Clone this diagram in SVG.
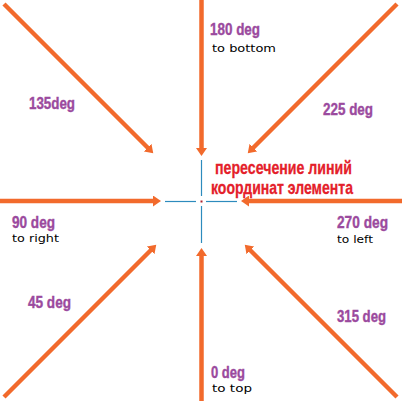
<svg xmlns="http://www.w3.org/2000/svg" width="402" height="401" viewBox="0 0 402 401">
<style>
.ar{stroke:#f26a2c;stroke-width:4.5;fill:none;marker-end:url(#ah)}
.cr{stroke:#2d8bbd;stroke-width:1.2;fill:none}
.deg{font-family:"Liberation Sans",Arial,sans-serif;font-weight:bold;font-size:17px;fill:#9b4a9e;stroke:#9b4a9e;stroke-width:0.4}
.sub{font-family:"DejaVu Sans",Verdana,sans-serif;font-size:11px;fill:#000}
.red{font-family:"Liberation Sans",Arial,sans-serif;font-weight:bold;font-size:19px;fill:#e4202a;stroke:#e4202a;stroke-width:0.3}
</style>
<defs>
<marker id="ah" markerUnits="userSpaceOnUse" markerWidth="10" markerHeight="11" refX="2" refY="5.5" orient="auto" viewBox="0 0 10 11">
<path d="M0,0 L8,5.5 L0,11 z" fill="#f26a2c"/>
</marker>
</defs>
<rect width="402" height="401" fill="#fff"/>
<g id="connectors">
<line class="ar" x1="201.5" y1="0" x2="201.5" y2="150"/>
<line class="ar" x1="201.5" y1="401" x2="201.5" y2="254"/>
<line class="ar" x1="0" y1="201" x2="155" y2="201"/>
<line class="ar" x1="402" y1="201" x2="247" y2="201"/>
<line class="ar" x1="4" y1="4" x2="149" y2="149"/>
<line class="ar" x1="397" y1="4" x2="252" y2="149"/>
<line class="ar" x1="4" y1="397" x2="152" y2="249"/>
<line class="ar" x1="397" y1="397" x2="249" y2="249"/>
</g>
<g id="crosshair">
<line class="cr" x1="201.5" y1="160" x2="201.5" y2="196"/>
<line class="cr" x1="201.5" y1="206" x2="201.5" y2="243"/>
<line class="cr" x1="165" y1="201.5" x2="196" y2="201.5"/>
<line class="cr" x1="206" y1="201.5" x2="237" y2="201.5"/>
<rect x="200.5" y="200.5" width="2" height="2" fill="#b0202a"/>
</g>
<g id="label-180"><text class="deg" x="210" y="35" textLength="50" lengthAdjust="spacingAndGlyphs">180 deg</text><text class="sub" x="212" y="52" textLength="64" lengthAdjust="spacingAndGlyphs">to bottom</text></g>
<g id="label-135"><text class="deg" x="29" y="109" textLength="46" lengthAdjust="spacingAndGlyphs">135deg</text></g>
<g id="label-225"><text class="deg" x="323" y="115" textLength="50" lengthAdjust="spacingAndGlyphs">225 deg</text></g>
<g id="label-90"><text class="deg" x="12" y="228" textLength="43" lengthAdjust="spacingAndGlyphs">90 deg</text><text class="sub" x="12" y="242" textLength="47" lengthAdjust="spacingAndGlyphs">to right</text></g>
<g id="label-270"><text class="deg" x="337" y="228" textLength="51" lengthAdjust="spacingAndGlyphs">270 deg</text><text class="sub" x="337" y="243" textLength="36" lengthAdjust="spacingAndGlyphs">to left</text></g>
<g id="label-45"><text class="deg" x="28" y="308" textLength="43" lengthAdjust="spacingAndGlyphs">45 deg</text></g>
<g id="label-315"><text class="deg" x="337" y="322" textLength="49" lengthAdjust="spacingAndGlyphs">315 deg</text></g>
<g id="label-0"><text class="deg" x="211" y="378" textLength="34" lengthAdjust="spacingAndGlyphs">0 deg</text><text class="sub" x="212" y="392" textLength="40" lengthAdjust="spacingAndGlyphs">to top</text></g>
<g id="label-center"><text class="red" x="215" y="174" textLength="137" lengthAdjust="spacingAndGlyphs">пересечение линий</text><text class="red" x="211" y="194" textLength="142" lengthAdjust="spacingAndGlyphs">координат элемента</text></g>
</svg>
